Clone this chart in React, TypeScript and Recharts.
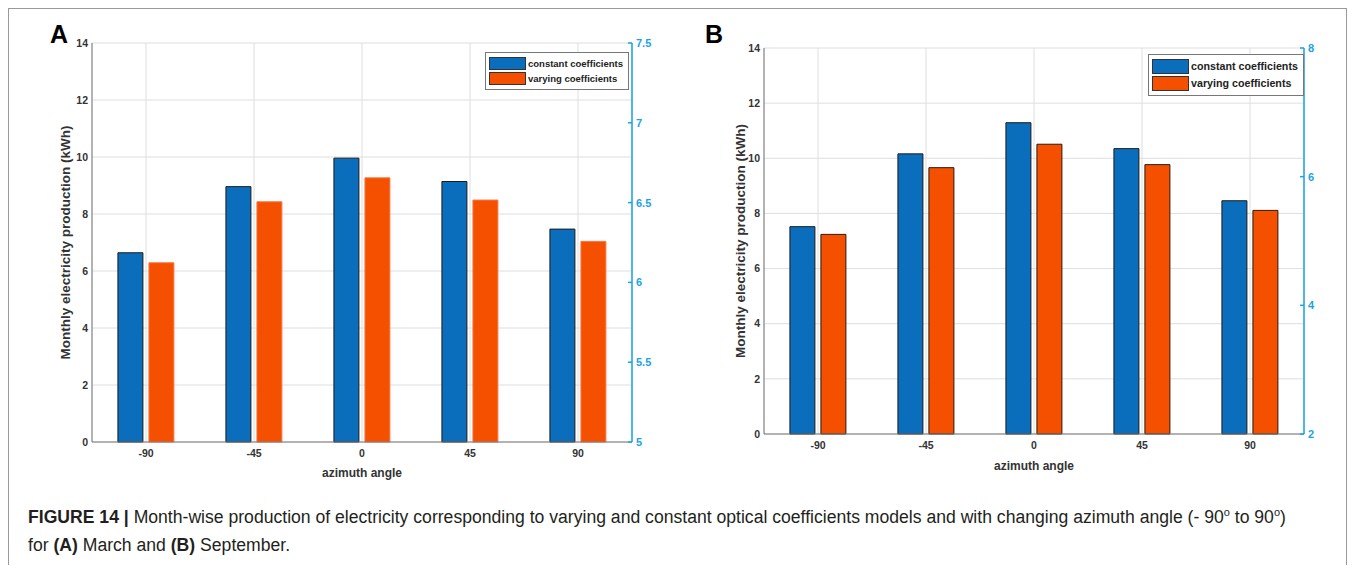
import React from 'react';
import { ComposedChart, Bar, Line, XAxis, YAxis, CartesianGrid, Legend } from 'recharts';

const angles = ['-90', '-45', '0', '45', '90'];
const marchConstant = [6.64, 8.96, 9.96, 9.14, 7.47];
const marchVarying = [6.29, 8.43, 9.27, 8.49, 7.04];
const septConstant = [7.52, 10.16, 11.29, 10.35, 8.46];
const septVarying = [7.24, 9.66, 10.51, 9.77, 8.11];

const leftTicks = [0, 2, 4, 6, 8, 10, 12, 14];
const marchRightTicks = [5, 5.5, 6, 6.5, 7, 7.5];
const septRightTicks = [2, 4, 6, 8];

const BLUE = '#0a6ebd';
const ORANGE = '#f54f00';
const CYAN = '#1aa3e6';
const SANS = "'Liberation Sans', Arial, Helvetica, sans-serif";

const marchData = angles.map((a, i) => ({ angle: a, constant: marchConstant[i], varying: marchVarying[i] }));
const septData = angles.map((a, i) => ({ angle: a, constant: septConstant[i], varying: septVarying[i] }));

interface LegendBoxProps {
  payload?: any[];
  fontSize: number;
  swatchW: number;
  swatchH: number;
}

const LegendBox = ({ payload, fontSize, swatchW, swatchH }: LegendBoxProps) => (
  <div
    style={{
      border: '1px solid #777',
      background: '#fff',
      padding: '2px 5px 2px 3px',
      fontFamily: SANS,
      fontWeight: 'bold',
      fontSize,
      color: '#222',
      lineHeight: 1,
    }}
  >
    {(payload || [])
      .filter((p) => p.type !== 'none')
      .map((p) => (
        <div key={p.value} style={{ display: 'flex', alignItems: 'center', margin: '2px 0', whiteSpace: 'nowrap' }}>
          <span
            style={{
              display: 'inline-block',
              width: swatchW,
              height: swatchH,
              background: p.color,
              border: '1px solid #333',
              marginRight: 2,
            }}
          />
          {p.value}
        </div>
      ))}
  </div>
);

// right axis: cyan labels with inward tick marks (matlab style)
const RightTick = (p: any) => (
  <g>
    <line x1={p.x - 8} x2={p.x - 4} y1={p.y} y2={p.y} stroke={CYAN} strokeWidth={1.5} />
    <text x={p.x} y={p.y} dy="0.355em" textAnchor="start" fontFamily={SANS} fontSize={11} fontWeight="bold" fill={CYAN}>
      {p.payload.value}
    </text>
  </g>
);

interface PanelProps {
  data: { angle: string; constant: number; varying: number }[];
  rightDomain: [number, number];
  rightTicks: number[];
  top: number;
  height: number;
  titleOffset: number;
  xLabelOffset: number;
  legendPos: { top: number; left: number };
  legendFont: number;
  swatch: [number, number];
  orangeStroke: string;
}

const Panel = ({
  data,
  rightDomain,
  rightTicks,
  top,
  height,
  titleOffset,
  xLabelOffset,
  legendPos,
  legendFont,
  swatch,
  orangeStroke,
}: PanelProps) => (
  <ComposedChart
    width={670}
    height={height}
    data={data}
    margin={{ top, right: 0, left: 0, bottom: 0 }}
    barCategoryGap="24%"
    barGap={6}
  >
    <CartesianGrid yAxisId="left" stroke="#dedede" strokeWidth={1} />
    <XAxis
      dataKey="angle"
      height={47}
      tickLine={false}
      tickSize={4}
      tickMargin={4}
      axisLine={{ stroke: '#777' }}
      tick={{ fontFamily: SANS, fontSize: 10.5, fontWeight: 'bold', fill: '#333' }}
      label={{
        value: 'azimuth angle',
        position: 'insideBottom',
        offset: xLabelOffset,
        style: { fontFamily: SANS, fontSize: 12, fontWeight: 'bold', fill: '#333' },
      }}
    />
    <XAxis xAxisId="top" dataKey="angle" orientation="top" height={0} tick={false} tickLine={false} axisLine={{ stroke: '#777' }} />
    <YAxis
      yAxisId="left"
      width={83}
      domain={[0, 14]}
      ticks={leftTicks}
      tickLine={false}
      tickSize={2}
      tickMargin={2}
      axisLine={{ stroke: '#777' }}
      tick={{ fontFamily: SANS, fontSize: 10.5, fontWeight: 'bold', fill: '#333' }}
      label={{
        value: 'Monthly electricity production (kWh)',
        angle: -90,
        position: 'insideLeft',
        offset: titleOffset,
        style: { textAnchor: 'middle', fontFamily: SANS, fontSize: 13.5, fontWeight: 'bold', fill: '#333' },
      }}
    />
    <YAxis
      yAxisId="right"
      orientation="right"
      width={47}
      domain={rightDomain}
      allowDataOverflow
      ticks={rightTicks}
      tickLine={false}
      tickSize={3}
      tickMargin={1}
      axisLine={{ stroke: CYAN, strokeWidth: 1.5 }}
      tick={RightTick}
    />
    <Legend
      layout="horizontal"
      verticalAlign="middle"
      align="center"
      wrapperStyle={{ top: legendPos.top, left: legendPos.left, width: 'auto', bottom: 'auto' }}
      content={(props: any) => (
        <LegendBox payload={props.payload} fontSize={legendFont} swatchW={swatch[0]} swatchH={swatch[1]} />
      )}
    />
    <Bar
      yAxisId="left"
      dataKey="constant"
      name="constant coefficients"
      fill={BLUE}
      stroke="#1c1c1c"
      strokeWidth={1}
      isAnimationActive={false}
    />
    <Bar
      yAxisId="left"
      dataKey="varying"
      name="varying coefficients"
      fill={ORANGE}
      stroke={orangeStroke}
      strokeWidth={1}
      isAnimationActive={false}
    />
    {/* keeps the secondary (right) axis alive; draws nothing */}
    <Line
      yAxisId="right"
      dataKey="secondary"
      legendType="none"
      stroke="none"
      dot={false}
      activeDot={false}
      isAnimationActive={false}
    />
  </ComposedChart>
);

export default function App() {
  return (
    <div
      style={{
        position: 'relative',
        width: 1339,
        height: 557,
        borderTop: '1px solid #999',
        borderLeft: '1px solid #999',
        borderRight: '1px solid #999',
        boxSizing: 'border-box',
        background: '#fff',
      }}
    >
      <div style={{ position: 'absolute', left: 0, top: 0 }}>
        <Panel
          data={marchData}
          rightDomain={[5, 7.5]}
          rightTicks={marchRightTicks}
          top={34}
          height={480}
          titleOffset={56}
          xLabelOffset={12}
          legendPos={{ top: 43, left: 476 }}
          legendFont={9.5}
          swatch={[35, 11]}
          orangeStroke="#f87a4a"
        />
      </div>
      <div style={{ position: 'absolute', left: 672, top: 0 }}>
        <Panel
          data={septData}
          rightDomain={[2, 8]}
          rightTicks={septRightTicks}
          top={39}
          height={472}
          titleOffset={59}
          xLabelOffset={11}
          legendPos={{ top: 45, left: 467 }}
          legendFont={10.7}
          swatch={[35, 13]}
          orangeStroke="#2a1a10"
        />
      </div>
      <div
        style={{
          position: 'absolute',
          left: 41,
          top: 11,
          fontFamily: SANS,
          fontWeight: 'bold',
          fontSize: 25,
          color: '#000',
        }}
      >
        A
      </div>
      <div
        style={{
          position: 'absolute',
          left: 696,
          top: 11,
          fontFamily: SANS,
          fontWeight: 'bold',
          fontSize: 25,
          color: '#000',
        }}
      >
        B
      </div>
      <div
        style={{
          position: 'absolute',
          left: 19,
          top: 489,
          fontFamily: SANS,
          fontSize: 17.6,
          lineHeight: '28px',
          color: '#231f20',
        }}
      >
        <div>
          <b>FIGURE 14 |</b> Month-wise production of electricity corresponding to varying and constant optical coefficients
          models and with changing azimuth angle (- 90<sup style={{ fontSize: 11 }}>o</sup> to 90
          <sup style={{ fontSize: 11 }}>o</sup>)
        </div>
        <div>
          for <b>(A)</b> March and <b>(B)</b> September.
        </div>
      </div>
    </div>
  );
}
